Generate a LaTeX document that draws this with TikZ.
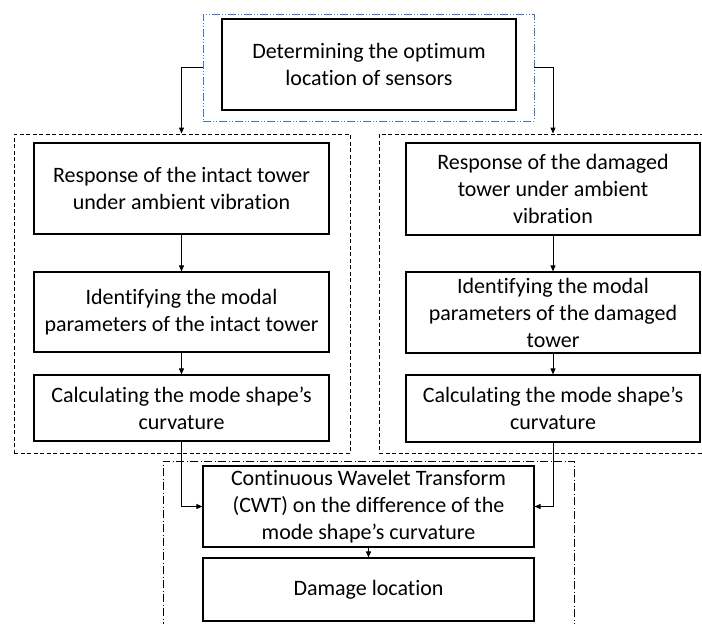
\documentclass[tikz,border=0pt]{standalone}
\usepackage{fontspec}
\setmainfont{Carlito}[Ligatures=NoCommon]
\usepackage{tikz}
\usetikzlibrary{arrows.meta}
\definecolor{frameblue}{RGB}{68,114,196}

\begin{document}
\begin{tikzpicture}[x=1pt, y=-1pt,
		box/.style={draw, line width=1.2pt, align=center, inner sep=2pt, font=\fontsize{22}{27}\selectfont},
		dashframe/.style={draw, line width=0.9pt, dash pattern=on 4pt off 2.5pt, inner sep=0pt},
		flow/.style={line width=0.9pt, -{Triangle[length=6pt,width=5pt]}}]
				\clip (0,0) rectangle (702,624);
				
				% outer frames
				\node[dashframe, draw=frameblue, dash pattern=on 8pt off 2pt on 1pt off 2pt on 1pt off 2pt, minimum width=331, minimum height=107] (topframe) at (368.5,67.5) {};
				\node[dashframe, minimum width=336, minimum height=319] (leftgrp) at (182,293.5) {};
				\node[dashframe, minimum width=341, minimum height=319] (rightgrp) at (549.5,293.5) {};
				\node[dashframe, dash pattern=on 8pt off 2.5pt on 1pt off 2.5pt, minimum width=411, minimum height=179] (botframe) at (368.5,550.5) {};
				
				% boxes
				\node[box, minimum width=294, minimum height=91] (sensors) at (369,64.5) {Determining the optimum\\location of sensors};
				
				\node[box, minimum width=295, minimum height=91] (l1) at (181.5,188.5) {Response of the intact tower\\under ambient vibration};
				\node[box, minimum width=295, minimum height=80] (l2) at (181.5,312) {Identifying the modal\\parameters of the intact tower};
				\node[box, minimum width=295, minimum height=66] (l3) at (181.5,408) {Calculating the mode shape's\\curvature};
				
				\node[box, minimum width=294, minimum height=92] (r1) at (553,189) {Response of the damaged\\tower under ambient\\vibration};
				\node[box, minimum width=294, minimum height=81] (r2) at (553,312.5) {Identifying the modal\\parameters of the damaged\\tower};
				\node[box, minimum width=294, minimum height=67] (r3) at (553,408.5) {Calculating the mode shape's\\curvature};
				
				\node[box, minimum width=331, minimum height=81] (cwt) at (368.5,506.5) {Continuous Wavelet Transform\\(CWT) on the difference of the\\mode shape's curvature};
				\node[box, minimum width=331, minimum height=63] (dmg) at (368.5,589.5) {Damage location};
				
				% connectors
				\draw[flow] (topframe.west) -| (l1.north |- leftgrp.north);
				\draw[flow] (topframe.east) -| (r1.north |- rightgrp.north);
				\draw[flow] (l1) -- (l2);
				\draw[flow] (l2) -- (l3);
				\draw[flow] (r1) -- (r2);
				\draw[flow] (r2) -- (r3);
				\draw[flow] (l3.south) |- (cwt.west);
				\draw[flow] (r3.south) |- (cwt.east);
				\draw[flow] (cwt) -- (dmg);
			\end{tikzpicture}
\end{document}
